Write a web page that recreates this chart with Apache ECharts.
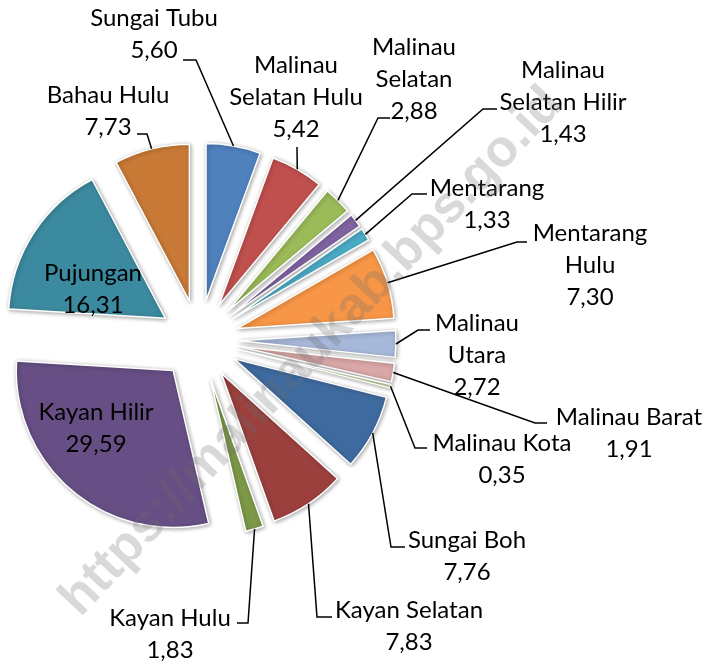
<!DOCTYPE html>
<html>
<head>
<meta charset="utf-8">
<script src="https://cdn.jsdelivr.net/npm/echarts@6/dist/echarts.min.js"></script>
<style>
    html, body { margin: 0; padding: 0; background: #fff; }
    #main { width: 712px; height: 664px; }
</style>
</head>
<body>
<div id="main"></div>
<script>
// kecamatan, clockwise from 12 o'clock
const categories = ['Sungai Tubu', 'Malinau Selatan Hulu', 'Malinau Selatan', 'Malinau Selatan Hilir',
    'Mentarang', 'Mentarang Hulu', 'Malinau Utara', 'Malinau Barat', 'Malinau Kota', 'Sungai Boh',
    'Kayan Selatan', 'Kayan Hulu', 'Kayan Hilir', 'Pujungan', 'Bahau Hulu'];
const values = [5.60, 5.42, 2.88, 1.43, 1.33, 7.30, 2.72, 1.91, 0.35, 7.76, 7.83, 1.83, 29.59, 16.31, 7.73];
// how the names are broken in the labels
const labelNames = ['Sungai Tubu', 'Malinau\nSelatan Hulu', 'Malinau\nSelatan', 'Malinau\nSelatan Hilir',
    'Mentarang', 'Mentarang\nHulu', 'Malinau\nUtara', 'Malinau Barat', 'Malinau Kota', 'Sungai Boh',
    'Kayan Selatan', 'Kayan Hulu', 'Kayan Hilir', 'Pujungan', 'Bahau Hulu'];
const colors = ['#4F81BD', '#C0504D', '#9BBB59', '#8064A2', '#4BACC6', '#F79646', '#A7B8DA', '#D9A7A6',
    '#C3D69B', '#3E6A9F', '#9C403D', '#7C9947', '#674F85', '#3C8A9F', '#C97A37'];

const CENTER = [199, 340];
const RADIUS = 157;
const EXPLODE = 40;

// label box: [center x, top y]
const labelPos = [[154, 2], [296, 49], [414, 31], [563, 54], [487, 172], [590, 217], [477, 307],
    [629, 401], [502, 427], [467, 524], [409, 594], [170, 602], [96, 396], [93, 257], [108, 79]];
// leader near the text: [x touching text, y, x of elbow]; null = label sits inside slice
const leaders = [[183, 60, 196], [297, 147, 297], [390, 118, 378], [497, 109, 483], [427, 194, 412],
    [527, 242, 517], [430, 330, 418], [547, 423, 535], [427, 448, 415], [405, 547, 391],
    [332, 617, 317], [237, 623, 248], null, null, [137, 134, 147]];

let chart = echarts.init(document.getElementById('main'));

let common = {
    type: 'pie',
    center: CENTER,
    radius: RADIUS,
    startAngle: 90,
    clockwise: true,
    avoidLabelOverlap: false,
    emphasis: { disabled: true }
};

// exploded slices
let sliceSeries = Object.assign({}, common, {
    selectedMode: 'multiple',
    selectedOffset: EXPLODE,
    data: categories.map((name, i) => ({
        name: name,
        value: values[i],
        selected: true,
        itemStyle: { color: colors[i] }
    })),
    itemStyle: {
        borderColor: '#fff',
        borderWidth: 1.5,
        shadowBlur: 4,
        shadowOffsetX: 1,
        shadowOffsetY: 1,
        shadowColor: 'rgba(0,0,0,0.35)'
    },
    label: { show: false },
    labelLine: { show: false }
});

// same pie, invisible, only carries the data labels and leader lines
let labelSeries = Object.assign({}, common, {
    silent: true,
    z: 3,
    data: categories.map((name, i) => ({
        name: name,
        value: values[i],
        labelLine: { show: leaders[i] != null }
    })),
    itemStyle: { color: 'rgba(0,0,0,0)' },
    label: {
        show: true,
        position: 'outside',
        color: '#000',
        fontFamily: 'Lato',
        fontSize: 24,
        lineHeight: 32,
        align: 'center',
        formatter: p => labelNames[p.dataIndex] + '\n' + p.value.toFixed(2).replace('.', ',')
    },
    labelLine: {
        show: true,
        length: 10,
        length2: 10,
        lineStyle: { color: '#000', width: 1.5 }
    },
    labelLayout: function (params) {
        let i = params.dataIndex;
        let res = {
            x: labelPos[i][0],
            y: labelPos[i][1],
            align: 'center',
            verticalAlign: 'top'
        };
        let ld = leaders[i];
        if (ld && params.labelLinePoints) {
            // anchor on the arc of the exploded slice
            let p0 = params.labelLinePoints[0];
            let dx = p0[0] - CENTER[0], dy = p0[1] - CENTER[1];
            let len = Math.sqrt(dx * dx + dy * dy);
            let k = (RADIUS + EXPLODE) / len;
            res.labelLinePoints = [
                [CENTER[0] + dx * k, CENTER[1] + dy * k],
                [ld[2], ld[1]],
                [ld[0], ld[1]]
            ];
        }
        return res;
    }
});

let option = {
    animation: false,
    series: [sliceSeries, labelSeries],
    graphic: [{
        type: 'text',
        x: 312,
        y: 352,
        rotation: 46.6 * Math.PI / 180,
        z: 100,
        silent: true,
        style: {
            text: 'https://malinaukab.bps.go.id',
            font: 'bold 52px "Liberation Sans"',
            fill: 'rgba(110,110,110,0.26)',
            align: 'center',
            verticalAlign: 'middle'
        }
    }]
};

chart.setOption(option);
</script>
</body>
</html>
